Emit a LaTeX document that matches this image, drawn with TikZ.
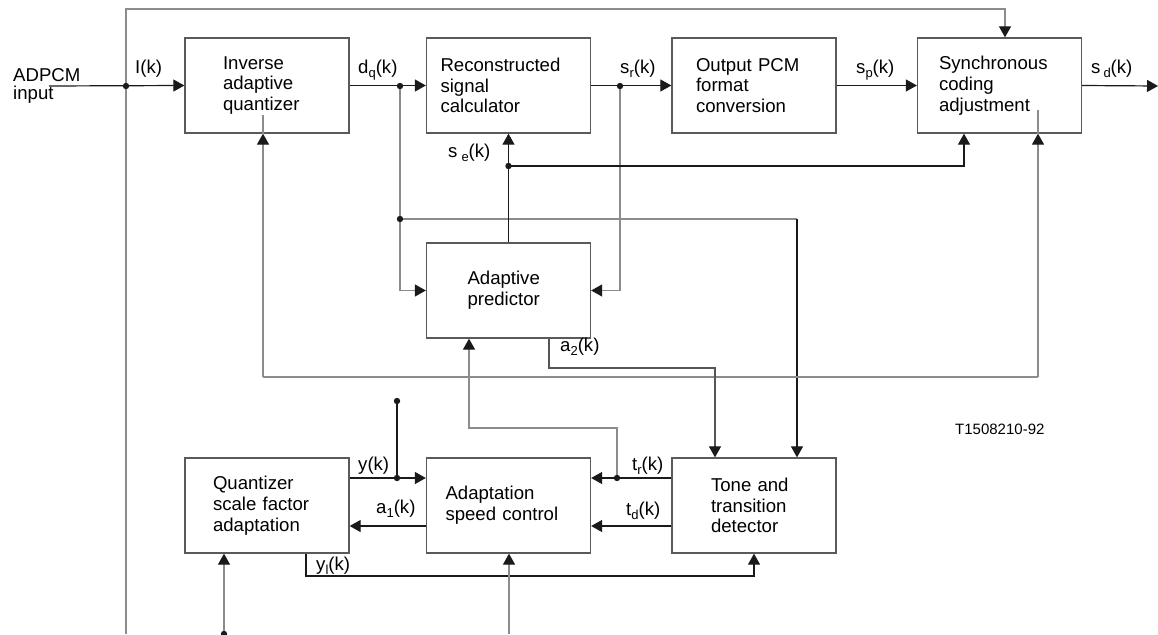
\documentclass[tikz,border=0pt]{standalone}
\usepackage{fontspec}
\setmainfont{Liberation Sans}
\usetikzlibrary{arrows.meta}
\definecolor{lk}{HTML}{1A1A1A}
\definecolor{lg}{HTML}{8C8C8C}
\definecolor{md}{HTML}{555555}
\definecolor{bx}{HTML}{5A5A5A}
\newcommand\sbx[1]{\raisebox{-4pt}{\fontsize{13}{13}\selectfont #1}}
\tikzset{
 box/.style={draw=bx, line width=1.3pt, minimum width=164pt, minimum height=95pt, inner sep=0pt, align=left, font=\fontsize{18.6}{20.7}\selectfont},
 lbl/.style={anchor=base west, inner sep=0pt, font=\fontsize{18.6}{20.7}\selectfont},
 blk/.style={draw=lk, line width=1.2pt},
 gry/.style={draw=lg, line width=1.2pt},
 mid/.style={draw=md, line width=1.2pt},
 arr/.style={-{Triangle[length=11pt,width=12pt,color=lk]}},
}
\begin{document}
\begin{tikzpicture}[x=1pt,y=-1pt]
\useasboundingbox (0,0) rectangle (1158,634);
% boxes
\node[box,text width=88pt] (iaq) at (267,85.5) {Inverse\\adaptive\\quantizer};
\node[box,text width=136pt] (rsc) at (508.5,85.5) {Reconstructed\\signal\\calculator};
\node[box,text width=116pt] (opc) at (754,85.5) {Output PCM\\format\\conversion};
\node[box,text width=121pt] (sca) at (999.5,85.5) {Synchronous\\coding\\adjustment};
\node[box,text width=82pt] (ap) at (508.5,290.5) {Adaptive\\predictor};
\node[box,text width=108pt] (qsf) at (267,505.5) {Quantizer\\scale factor\\adaptation};
\node[box,text width=126pt] (asc) at (508.5,505.5) {Adaptation\\speed control};
\node[box,text width=86pt] (ttd) at (754,505.5) {Tone and\\transition\\detector};
% input
\node[anchor=north west, inner sep=0pt, align=left, font=\fontsize{18.6}{18.5}\selectfont] (adin) at (13,68) {ADPCM\\input};
\coordinate (inA) at (49,86);
\coordinate (j1) at (126,86);
\coordinate (lb) at (126,634);
\coordinate (lt) at (126,9);
\coordinate (lr) at (1005,9);
\draw[blk,arr] (inA) -- (iaq.west);
\draw[gry,arr] (lb) -- (lt) -- (lr) -- (lr |- sca.north);
% dq
\coordinate (j2) at (400,86);
\coordinate (j3) at (400,219);
\coordinate (c797) at (797,219);
\draw[blk,arr] (iaq.east) -- (rsc.west);
\draw[gry] (j2) -- (j3) -- (c797);
\draw[gry,arr] (j3) |- (ap.west);
\draw[blk,arr] (c797) -- (c797 |- ttd.north);
% sr
\coordinate (j4) at (620,86);
\draw[blk,arr] (rsc.east) -- (opc.west);
\draw[gry,arr] (j4) |- (ap.east);
\draw[blk,arr] (opc.east) -- (sca.west);
\coordinate (outR) at (1158,86);
\draw[blk,arr] (sca.east) -- (outR);
% se
\coordinate (j5) at (508.5,166);
\coordinate (c964) at (964,166);
\draw[blk,arr] (ap.north) -- (rsc.south);
\draw[blk,arr] (j5) -- (c964) -- (c964 |- sca.south);
% loop at 377
\coordinate (l1) at (263,377);
\coordinate (l2) at (1038,377);
\coordinate (iaqIn) at (263,115);
\coordinate (scaIn) at (1038,110);
\draw[gry] (l1) -- (l2);
\draw[gry,arr] (l1) -- (l1 |- iaq.south);
\draw[gry,arr] (l2) -- (l2 |- sca.south);
\draw[gry] (l1 |- iaq.south) -- (iaqIn);
\draw[gry] (l2 |- sca.south) -- (scaIn);
% a2
\coordinate (a2a) at (549,368);
\coordinate (a2b) at (715,368);
\draw[mid,arr] (a2a |- ap.south) -- (a2a) -- (a2b) -- (a2b |- ttd.north);
% tr feedback to predictor
\coordinate (j6) at (617,478);
\coordinate (c617) at (617,428);
\coordinate (c469) at (469,428);
\draw[gry,arr] (j6) -- (c617) -- (c469) -- (c469 |- ap.south);
% tr td
\coordinate (yA) at (0,478);
\coordinate (yB) at (0,526);
\draw[blk,arr] (ttd.west |- yA) -- (asc.east |- yA);
\draw[blk,arr] (ttd.west |- yB) -- (asc.east |- yB);
% y a1
\coordinate (j7) at (397,478);
\coordinate (j8) at (397,401);
\draw[blk,arr] (qsf.east |- yA) -- (asc.west |- yA);
\draw[blk] (j7) -- (j8);
\draw[blk,arr] (asc.west |- yB) -- (qsf.east |- yB);
% yl
\coordinate (yl1) at (306,576);
\coordinate (yl2) at (754,576);
\draw[blk,arr] (yl1 |- qsf.south) -- (yl1) -- (yl2) -- (ttd.south);
% bottom inputs
\coordinate (b1) at (224,634);
\coordinate (b2) at (509,634);
\draw[gry,arr] (b1) -- (b1 |- qsf.south);
\draw[gry,arr] (b2) -- (b2 |- asc.south);
% dots
\foreach \p in {j1,j2,j3,j4,j5,j6,j7,j8,b1} \fill[lk] (\p) circle (3.2pt);
% labels
\node[lbl] (Ik) at (135,74) {I(k)};
\node[lbl] (dqk) at (358,74) {d\sbx{q}(k)};
\node[lbl] (srk) at (620,74) {s\sbx{r}(k)};
\node[lbl] (spk) at (856,74) {s\sbx{p}(k)};
\node[lbl] (sdk) at (1091,74) {s\kern3pt\sbx{d}(k)};
\node[lbl] (sek) at (448,157) {s\kern4pt\sbx{e}(k)};
\node[lbl] (a2k) at (560,351) {a\sbx{2}(k)};
\node[lbl] (yk) at (358,470) {y(k)};
\node[lbl] (a1k) at (376,513) {a\sbx{1}(k)};
\node[lbl] (ylk) at (316,570) {y\sbx{l}(k)};
\node[lbl] (trk) at (632,470) {t\sbx{r}(k)};
\node[lbl] (tdk) at (626,515) {t\sbx{d}(k)};
\node[anchor=base west, inner sep=0pt, font=\fontsize{15}{18}\selectfont] (code) at (955,434) {T1508210-92};
\end{tikzpicture}
\end{document}
